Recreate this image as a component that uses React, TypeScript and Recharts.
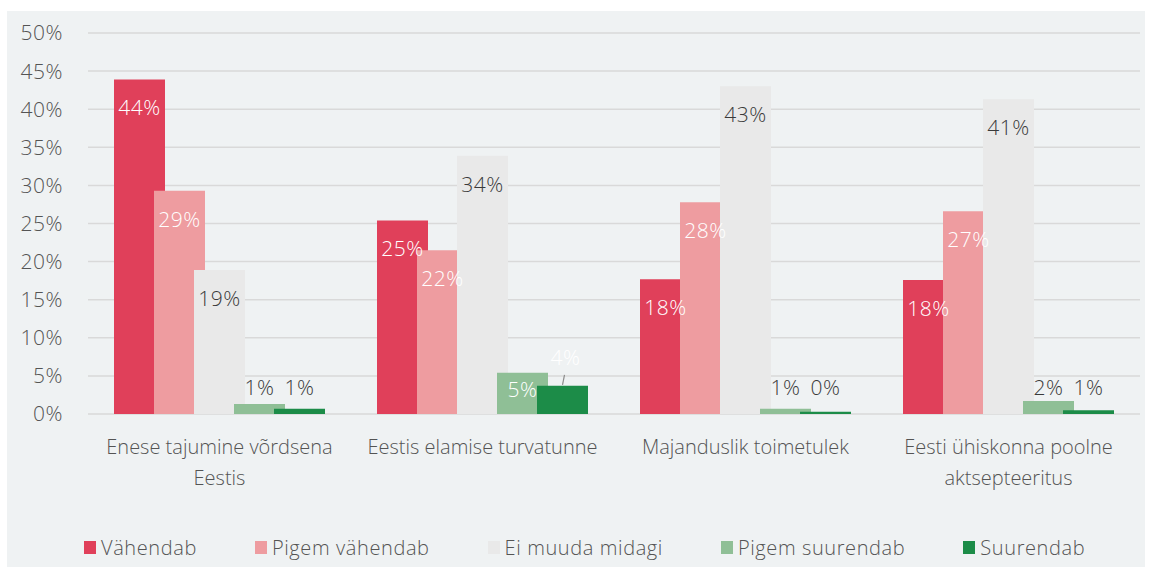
import React from "react";
import { BarChart, Bar, XAxis, YAxis, CartesianGrid, Legend, LabelList } from "recharts";

const categories = [
  "Enese tajumine võrdsena Eestis",
  "Eestis elamise turvatunne",
  "Majanduslik toimetulek",
  "Eesti ühiskonna poolne aktsepteeritus",
];
const vahendab = [43.9, 25.4, 17.7, 17.6];
const pigemVahendab = [29.3, 21.5, 27.8, 26.6];
const eiMuuda = [18.9, 33.9, 43.0, 41.3];
const pigemSuurendab = [1.3, 5.4, 0.7, 1.7];
const suurendab = [0.7, 3.7, 0.3, 0.5];
const yTicks = [0, 5, 10, 15, 20, 25, 30, 35, 40, 45, 50];

const seriesNames = ["Vähendab", "Pigem vähendab", "Ei muuda midagi", "Pigem suurendab", "Suurendab"];
const colors = ["#E0405A", "#EE9CA0", "#E9E9E9", "#8FBF96", "#1C8C48"];

const data = categories.map((c, i) => ({
  name: c,
  v: vahendab[i],
  pv: pigemVahendab[i],
  em: eiMuuda[i],
  ps: pigemSuurendab[i],
  s: suurendab[i],
}));

const FONT = "'Open Sans', Lato, sans-serif";
const WEIGHT = 300;
const DARK = "#3A3A3A";
const AXIS = "#545454";
const NUM_SIZE = 21;
const NUM_LS = 0.5;
const CAT_SIZE = 20;
const fmt = (v: number) => `${Math.round(v)}%`;

let ctx: CanvasRenderingContext2D | null = null;
const measure = (s: string, size: number) => {
  if (!ctx) ctx = document.createElement("canvas").getContext("2d");
  if (!ctx) return s.length * size * 0.5;
  ctx.font = `${WEIGHT} ${size}px 'Open Sans'`;
  return ctx.measureText(s).width;
};

const wrap = (s: string, maxW: number, size: number) => {
  const words = s.split(" ");
  const lines: string[] = [];
  let cur = "";
  words.forEach((w) => {
    const t = cur ? `${cur} ${w}` : w;
    if (cur && measure(t, size) > maxW) {
      lines.push(cur);
      cur = w;
    } else cur = t;
  });
  if (cur) lines.push(cur);
  return lines;
};

const XTick = (props: any) => {
  const { x, y, payload } = props;
  const lines = wrap(String(payload.value), 250, CAT_SIZE);
  return (
    <text x={x} y={y + 40} textAnchor="middle" fontSize={CAT_SIZE} fontFamily={FONT} fontWeight={WEIGHT} fill={AXIS}>
      {lines.map((l, i) => (
        <tspan key={i} x={x} dy={i === 0 ? 0 : 31}>
          {l}
        </tspan>
      ))}
    </text>
  );
};

const smallLabel = (threshold: number, inside: boolean) => (props: any) => {
  const vb = props.viewBox || props;
  const x = vb.x ?? props.x;
  const y = vb.y ?? props.y;
  const w = vb.width ?? props.width;
  const h = vb.height ?? props.height;
  const value = props.value;
  const cx = x + w / 2;
  const bottom = y + h;
  const common = {
    textAnchor: "middle" as const,
    fontSize: NUM_SIZE,
    fontFamily: FONT,
    fontWeight: WEIGHT,
    letterSpacing: NUM_LS,
  };
  if (value >= threshold) {
    if (inside) {
      return (
        <text x={cx} y={y + 24} {...common} fill="#FFFFFF">
          {fmt(value)}
        </text>
      );
    }
    return (
      <g>
        <line x1={cx + 2} y1={y - 11} x2={cx} y2={y - 1} stroke="#8C8C8C" strokeWidth={1.2} />
        <text x={cx + 3} y={y - 21} {...common} fill="#FFFFFF">
          {fmt(value)}
        </text>
      </g>
    );
  }
  return (
    <text x={cx} y={bottom - 19} {...common} fill={DARK}>
      {fmt(value)}
    </text>
  );
};

const renderLegend = () => (
  <div
    style={{
      display: "flex",
      alignItems: "center",
      height: 22,
      paddingLeft: 77,
      gap: 58,
      fontFamily: FONT,
      fontWeight: WEIGHT,
      fontSize: CAT_SIZE,
      letterSpacing: 0.6,
      color: AXIS,
    }}
  >
    {seriesNames.map((n, i) => (
      <div key={n} style={{ display: "flex", alignItems: "center" }}>
        <span style={{ display: "inline-block", width: 12, height: 13, background: colors[i], marginRight: 5 }} />
        <span>{n}</span>
      </div>
    ))}
  </div>
);

const labelProps = {
  position: "insideTop" as const,
  offset: 21,
  formatter: fmt,
  fontSize: NUM_SIZE,
  fontFamily: FONT,
  fontWeight: WEIGHT,
  letterSpacing: NUM_LS,
};

export default function App() {
  return (
    <div
      style={{
        position: "absolute",
        left: 7,
        top: 11,
        width: 1138,
        height: 556,
        background: "#EFF2F3",
      }}
    >
      <BarChart
        width={1138}
        height={556}
        data={data}
        margin={{ top: 22, right: 5, left: 0, bottom: 9 }}
        barSize={51}
        barGap={-11}
      >
        <CartesianGrid vertical={false} stroke="#D9D9D9" strokeWidth={1.5} />
        <XAxis
          dataKey="name"
          axisLine={false}
          tickLine={false}
          tickSize={0}
          tickMargin={0}
          height={122}
          interval={0}
          tick={<XTick />}
        />
        <YAxis
          domain={[0, 50]}
          ticks={yTicks}
          width={81}
          axisLine={false}
          tickLine={false}
          tickSize={0}
          tickMargin={25}
          tickFormatter={(v: number) => `${v}%`}
          tick={{ fontSize: NUM_SIZE, fontFamily: FONT, fontWeight: WEIGHT, fill: AXIS, letterSpacing: NUM_LS }}
        />
        <Legend verticalAlign="bottom" content={renderLegend} />
        <Bar dataKey="v" name={seriesNames[0]} fill={colors[0]} isAnimationActive={false}>
          <LabelList dataKey="v" {...labelProps} fill="#FFFFFF" />
        </Bar>
        <Bar dataKey="pv" name={seriesNames[1]} fill={colors[1]} isAnimationActive={false}>
          <LabelList dataKey="pv" {...labelProps} fill="#FFFFFF" />
        </Bar>
        <Bar dataKey="em" name={seriesNames[2]} fill={colors[2]} isAnimationActive={false}>
          <LabelList dataKey="em" {...labelProps} fill={DARK} />
        </Bar>
        <Bar dataKey="ps" name={seriesNames[3]} fill={colors[3]} isAnimationActive={false}>
          <LabelList dataKey="ps" content={smallLabel(5, true)} />
        </Bar>
        <Bar dataKey="s" name={seriesNames[4]} fill={colors[4]} isAnimationActive={false}>
          <LabelList dataKey="s" content={smallLabel(3, false)} />
        </Bar>
      </BarChart>
    </div>
  );
}
